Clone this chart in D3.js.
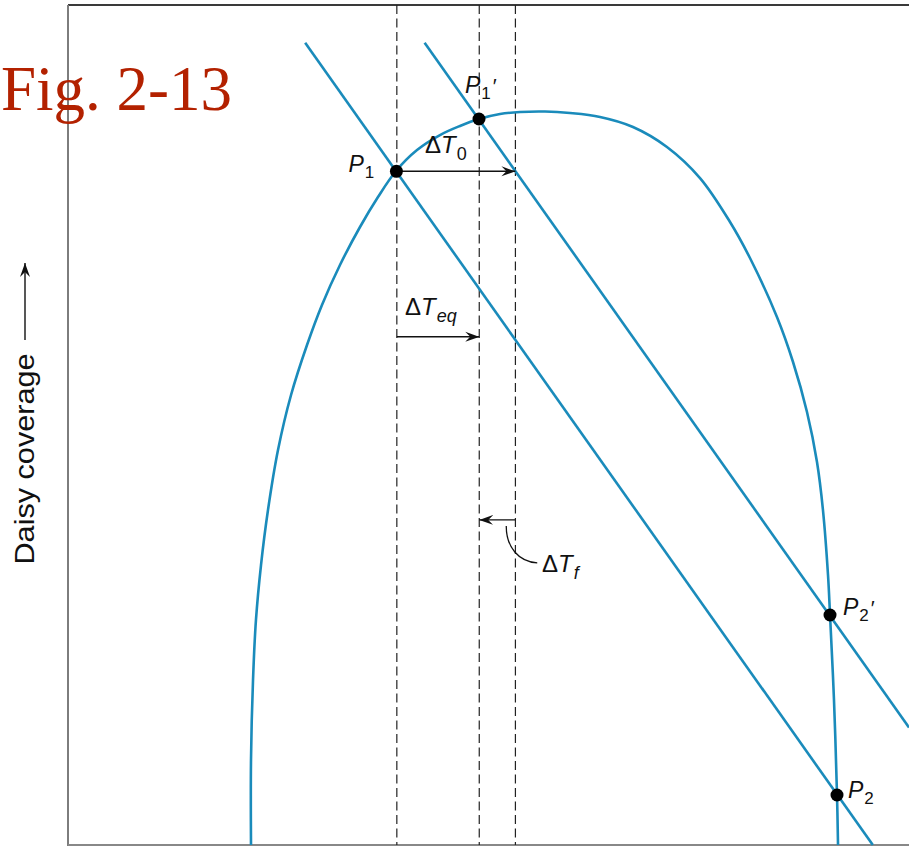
<!DOCTYPE html>
<html><head><meta charset="utf-8">
<script src="https://cdn.jsdelivr.net/npm/d3@7"></script>
<style>body{margin:0;background:#fff} svg{display:block}</style>
</head><body>
<svg id="c" width="909" height="846"></svg>
<script>
// ---- data (temperature units 0..100, coverage units 0..100) ----
const curveT     = [21.76,21.76,22.00,22.35,22.95,23.78,24.97,26.52,28.42,30.20,32.34,34.72,36.86,39.00,41.50,44.23,46.61,48.87,51.37,53.75,56.72,59.69,63.26,67.18,71.22,75.15,78.72,81.09,84.30,86.21,87.87,89.06,89.77,90.37,90.61,91.08,91.44,91.56];
const curveCover = [0,10.12,19.64,26.79,33.33,39.88,47.02,53.57,59.52,64.29,69.05,73.57,77.14,80.24,82.74,84.52,85.60,86.43,87.02,87.26,87.32,87.14,86.67,85.48,83.10,79.40,74.17,69.88,62.86,57.50,51.55,45.60,39.88,32.14,27.38,17.26,5.95,0];
const lineA_T = [28.2, 95.7], lineA_C = [95.5, 0];
const lineB_T = [42.4, 100],  lineB_C = [95.5, 14.0];
const dashedT = [39.1, 48.9, 53.2];
const pointMain = ["P","P","P","P"];
const pointSub  = ["1","1","2","2"];
const pointPrime= [false,true,true,false];
const pointT = [39.05, 48.87, 90.61, 91.44];
const pointC = [80.2, 86.43, 27.38, 5.95];
const arrowSub   = ["0","eq","f"];
const arrowFromT = [39.1, 39.1, 53.2];
const arrowToT   = [53.2, 48.9, 48.9];
const arrowC     = [80.2, 60.5, 38.7];
const yLabel = "Daisy coverage";
const title = "Fig. 2-13";

// ---- layout ----
const svg = d3.select("#c");
const x = d3.scaleLinear().domain([0,100]).range([68,909]);
const y = d3.scaleLinear().domain([0,100]).range([845,5]);
const blue = "#1a8bbb";
const font = "'Liberation Sans', Arial, Helvetica, sans-serif";

const defs = svg.append("defs");
defs.append("marker").attr("id","ah").attr("viewBox","-14 -6 14 12")
  .attr("refX",0).attr("refY",0).attr("markerWidth",14).attr("markerHeight",12)
  .attr("markerUnits","userSpaceOnUse").attr("orient","auto")
  .append("path").attr("d","M0,0 L-14,-5 L-9,0 L-14,5 Z").attr("fill","#111");

// frame
svg.append("line").attr("x1",x(0)).attr("x2",x(100)).attr("y1",y(100)).attr("y2",y(100))
  .attr("stroke","#3a3a3a").attr("stroke-width",2);
svg.append("line").attr("x1",x(0)).attr("x2",x(0)).attr("y1",y(100)).attr("y2",y(0)+1)
  .attr("stroke","#7d7d7d").attr("stroke-width",2);
svg.append("line").attr("x1",x(0)).attr("x2",x(100)).attr("y1",y(0)).attr("y2",y(0))
  .attr("stroke","#888").attr("stroke-width",2);

// dashed verticals
svg.selectAll(".dash").data(dashedT).join("line").attr("class","dash")
  .attr("x1",d=>x(d)).attr("x2",d=>x(d)).attr("y1",y(100)).attr("y2",y(0))
  .attr("stroke","#222").attr("stroke-width",1.2).attr("stroke-dasharray","9,4.5");

// curve
const curvePts = curveT.map((t,i)=>[t,curveCover[i]]);
svg.append("path").datum(curvePts)
  .attr("d", d3.line().x(d=>x(d[0])).y(d=>y(d[1])).curve(d3.curveCatmullRom.alpha(0.5)))
  .attr("fill","none").attr("stroke",blue).attr("stroke-width",2.6);

// straight lines
[[lineA_T,lineA_C],[lineB_T,lineB_C]].forEach(([T,C])=>{
  svg.append("line").attr("x1",x(T[0])).attr("y1",y(C[0])).attr("x2",x(T[1])).attr("y2",y(C[1]))
    .attr("stroke",blue).attr("stroke-width",2.6);
});

// arrows
arrowSub.forEach((s,i)=>{
  svg.append("line").attr("x1",x(arrowFromT[i])).attr("x2",x(arrowToT[i]))
    .attr("y1",y(arrowC[i])).attr("y2",y(arrowC[i]))
    .attr("stroke","#111").attr("stroke-width",1.4).attr("marker-end","url(#ah)");
});

// points
svg.selectAll(".pt").data(pointT).join("circle").attr("class","pt")
  .attr("cx",d=>x(d)).attr("cy",(d,i)=>y(pointC[i])).attr("r",6.5).attr("fill","#000");

// point labels (offsets from point in px)
const ptLabelOff = [[-48,1],[-14,-26],[13,0],[11,3]];
pointT.forEach((t,i)=>{
  const tx = svg.append("text").attr("x",x(t)+ptLabelOff[i][0]).attr("y",y(pointC[i])+ptLabelOff[i][1])
    .attr("font-family",font).attr("font-size",23).attr("fill","#111");
  tx.append("tspan").attr("font-style","italic").text(pointMain[i]);
  tx.append("tspan").attr("font-size",17).attr("dy",6).attr("dx",1).text(pointSub[i]);
  if(pointPrime[i]) tx.append("tspan").attr("font-size",21).attr("dy",-6).attr("dx",2).text("′");
});

// arrow labels
const arLabelPos = [[425,153],[405,315],[542,572]];
arrowSub.forEach((s,i)=>{
  const tx = svg.append("text").attr("x",arLabelPos[i][0]).attr("y",arLabelPos[i][1])
    .attr("font-family",font).attr("font-size",24).attr("fill","#111");
  tx.append("tspan").text("Δ");
  tx.append("tspan").attr("font-style","italic").text("T");
  tx.append("tspan").attr("font-size",18).attr("dy",7).attr("dx",1)
    .attr("font-style", s==="0" ? "normal" : "italic").text(s);
});
// leader for ΔTf
const lx = x(arrowToT[2]) + 27, ly = y(arrowC[2]) + 6;
svg.append("path").attr("d",`M${lx},${ly} C${lx},${ly+22} ${lx+13},${ly+36} ${lx+31},${ly+37}`)
  .attr("fill","none").attr("stroke","#111").attr("stroke-width",1.3);

// y label
svg.append("text").attr("transform","translate(34,459) rotate(-90)")
  .attr("text-anchor","middle").attr("font-family",font).attr("font-size",28).attr("fill","#111")
  .attr("textLength",211).attr("lengthAdjust","spacingAndGlyphs")
  .text(yLabel);
svg.append("line").attr("x1",25).attr("x2",25).attr("y1",340).attr("y2",263)
  .attr("stroke","#111").attr("stroke-width",1.4).attr("marker-end","url(#ah)");

// title
svg.append("text").attr("x",1).attr("y",110).attr("font-family","'Liberation Serif','Times New Roman',serif")
  .attr("font-size",63).attr("fill","#b32100").text(title);
</script>
</body></html>
